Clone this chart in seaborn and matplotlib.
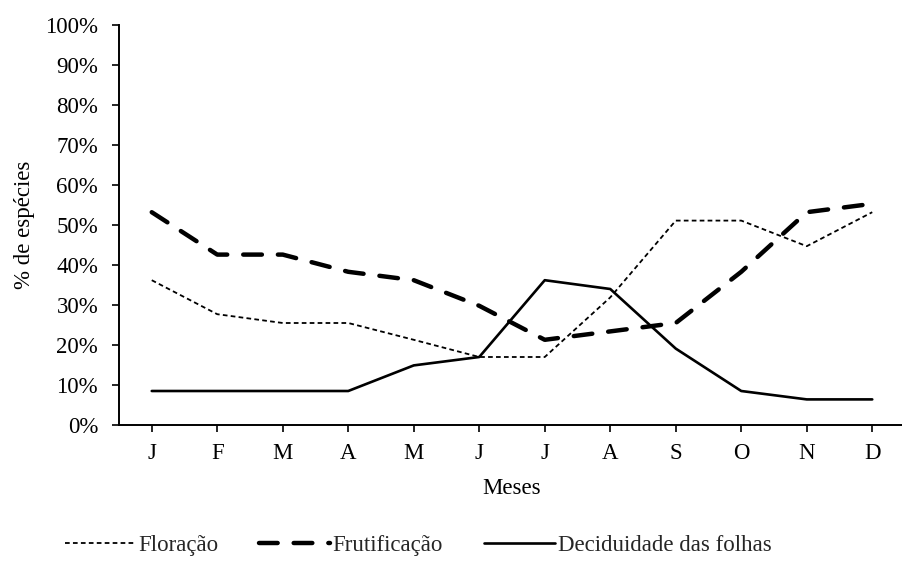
import numpy as np
import pandas as pd
import seaborn as sns
import matplotlib.pyplot as plt

# month initials (Jan..Dec) and % of species per phenophase
meses = ['J', 'F', 'M', 'A', 'M', 'J', 'J', 'A', 'S', 'O', 'N', 'D']
floracao = [36.2, 27.7, 25.5, 25.5, 21.3, 17.0, 17.0, 31.9, 51.1, 51.1, 44.7, 53.2]
frutificacao = [53.2, 42.6, 42.6, 38.3, 36.2, 29.8, 21.3, 23.4, 25.5, 38.3, 53.2, 55.3]
deciduidade = [8.5, 8.5, 8.5, 8.5, 14.9, 17.0, 36.2, 34.0, 19.1, 8.5, 6.4, 6.4]

df = pd.DataFrame({
    'mes': np.arange(len(meses)),
    'Floração': floracao,
    'Frutificação': frutificacao,
    'Deciduidade das folhas': deciduidade,
})

sns.set_style('ticks')
plt.rcParams['font.family'] = ['Liberation Serif', 'DejaVu Serif']

fig = plt.figure(figsize=(9.02, 5.70), dpi=100)
ax = fig.add_axes([119 / 902, 145 / 570, 786 / 902, 400 / 570])

sns.lineplot(data=df, x='mes', y='Floração', ax=ax, color='black',
             linewidth=1.3, linestyle=(0, (2.6, 1.8)), label='Floração')
sns.lineplot(data=df, x='mes', y='Frutificação', ax=ax, color='black',
             linewidth=3.2, linestyle=(0, (4.2, 3.6)), dash_capstyle='round',
             label='Frutificação')
sns.lineplot(data=df, x='mes', y='Deciduidade das folhas', ax=ax, color='black',
             linewidth=1.9, label='Deciduidade das folhas')

ax.set_xlim(-0.5, 11.5)
ax.set_ylim(0, 100)
ax.set_xticks(df['mes'])
ax.set_xticklabels(meses)
ax.set_yticks(range(0, 101, 10))
ax.set_yticklabels([f'{v}%' for v in range(0, 101, 10)])
ax.tick_params(axis='both', labelsize=16.5, color='black', length=5, width=1.2,
               labelcolor='black')
ax.tick_params(axis='x', pad=8)
ax.tick_params(axis='y', pad=10)
for side in ['top', 'right']:
    ax.spines[side].set_visible(False)
for side in ['left', 'bottom']:
    ax.spines[side].set_color('black')
    ax.spines[side].set_linewidth(1.4)

ax.set_xlabel('Meses', fontsize=16.5, color='black', labelpad=10)
ax.set_ylabel('% de espécies', fontsize=16.5, color='black', labelpad=7)

ax.legend(loc='center', bbox_to_anchor=(418 / 902, 25 / 570),
          bbox_transform=fig.transFigure, ncol=3, frameon=False,
          fontsize=16.5, handlelength=3.1, handletextpad=0.1,
          columnspacing=1.8)

fig.savefig('out.png', dpi=100)
